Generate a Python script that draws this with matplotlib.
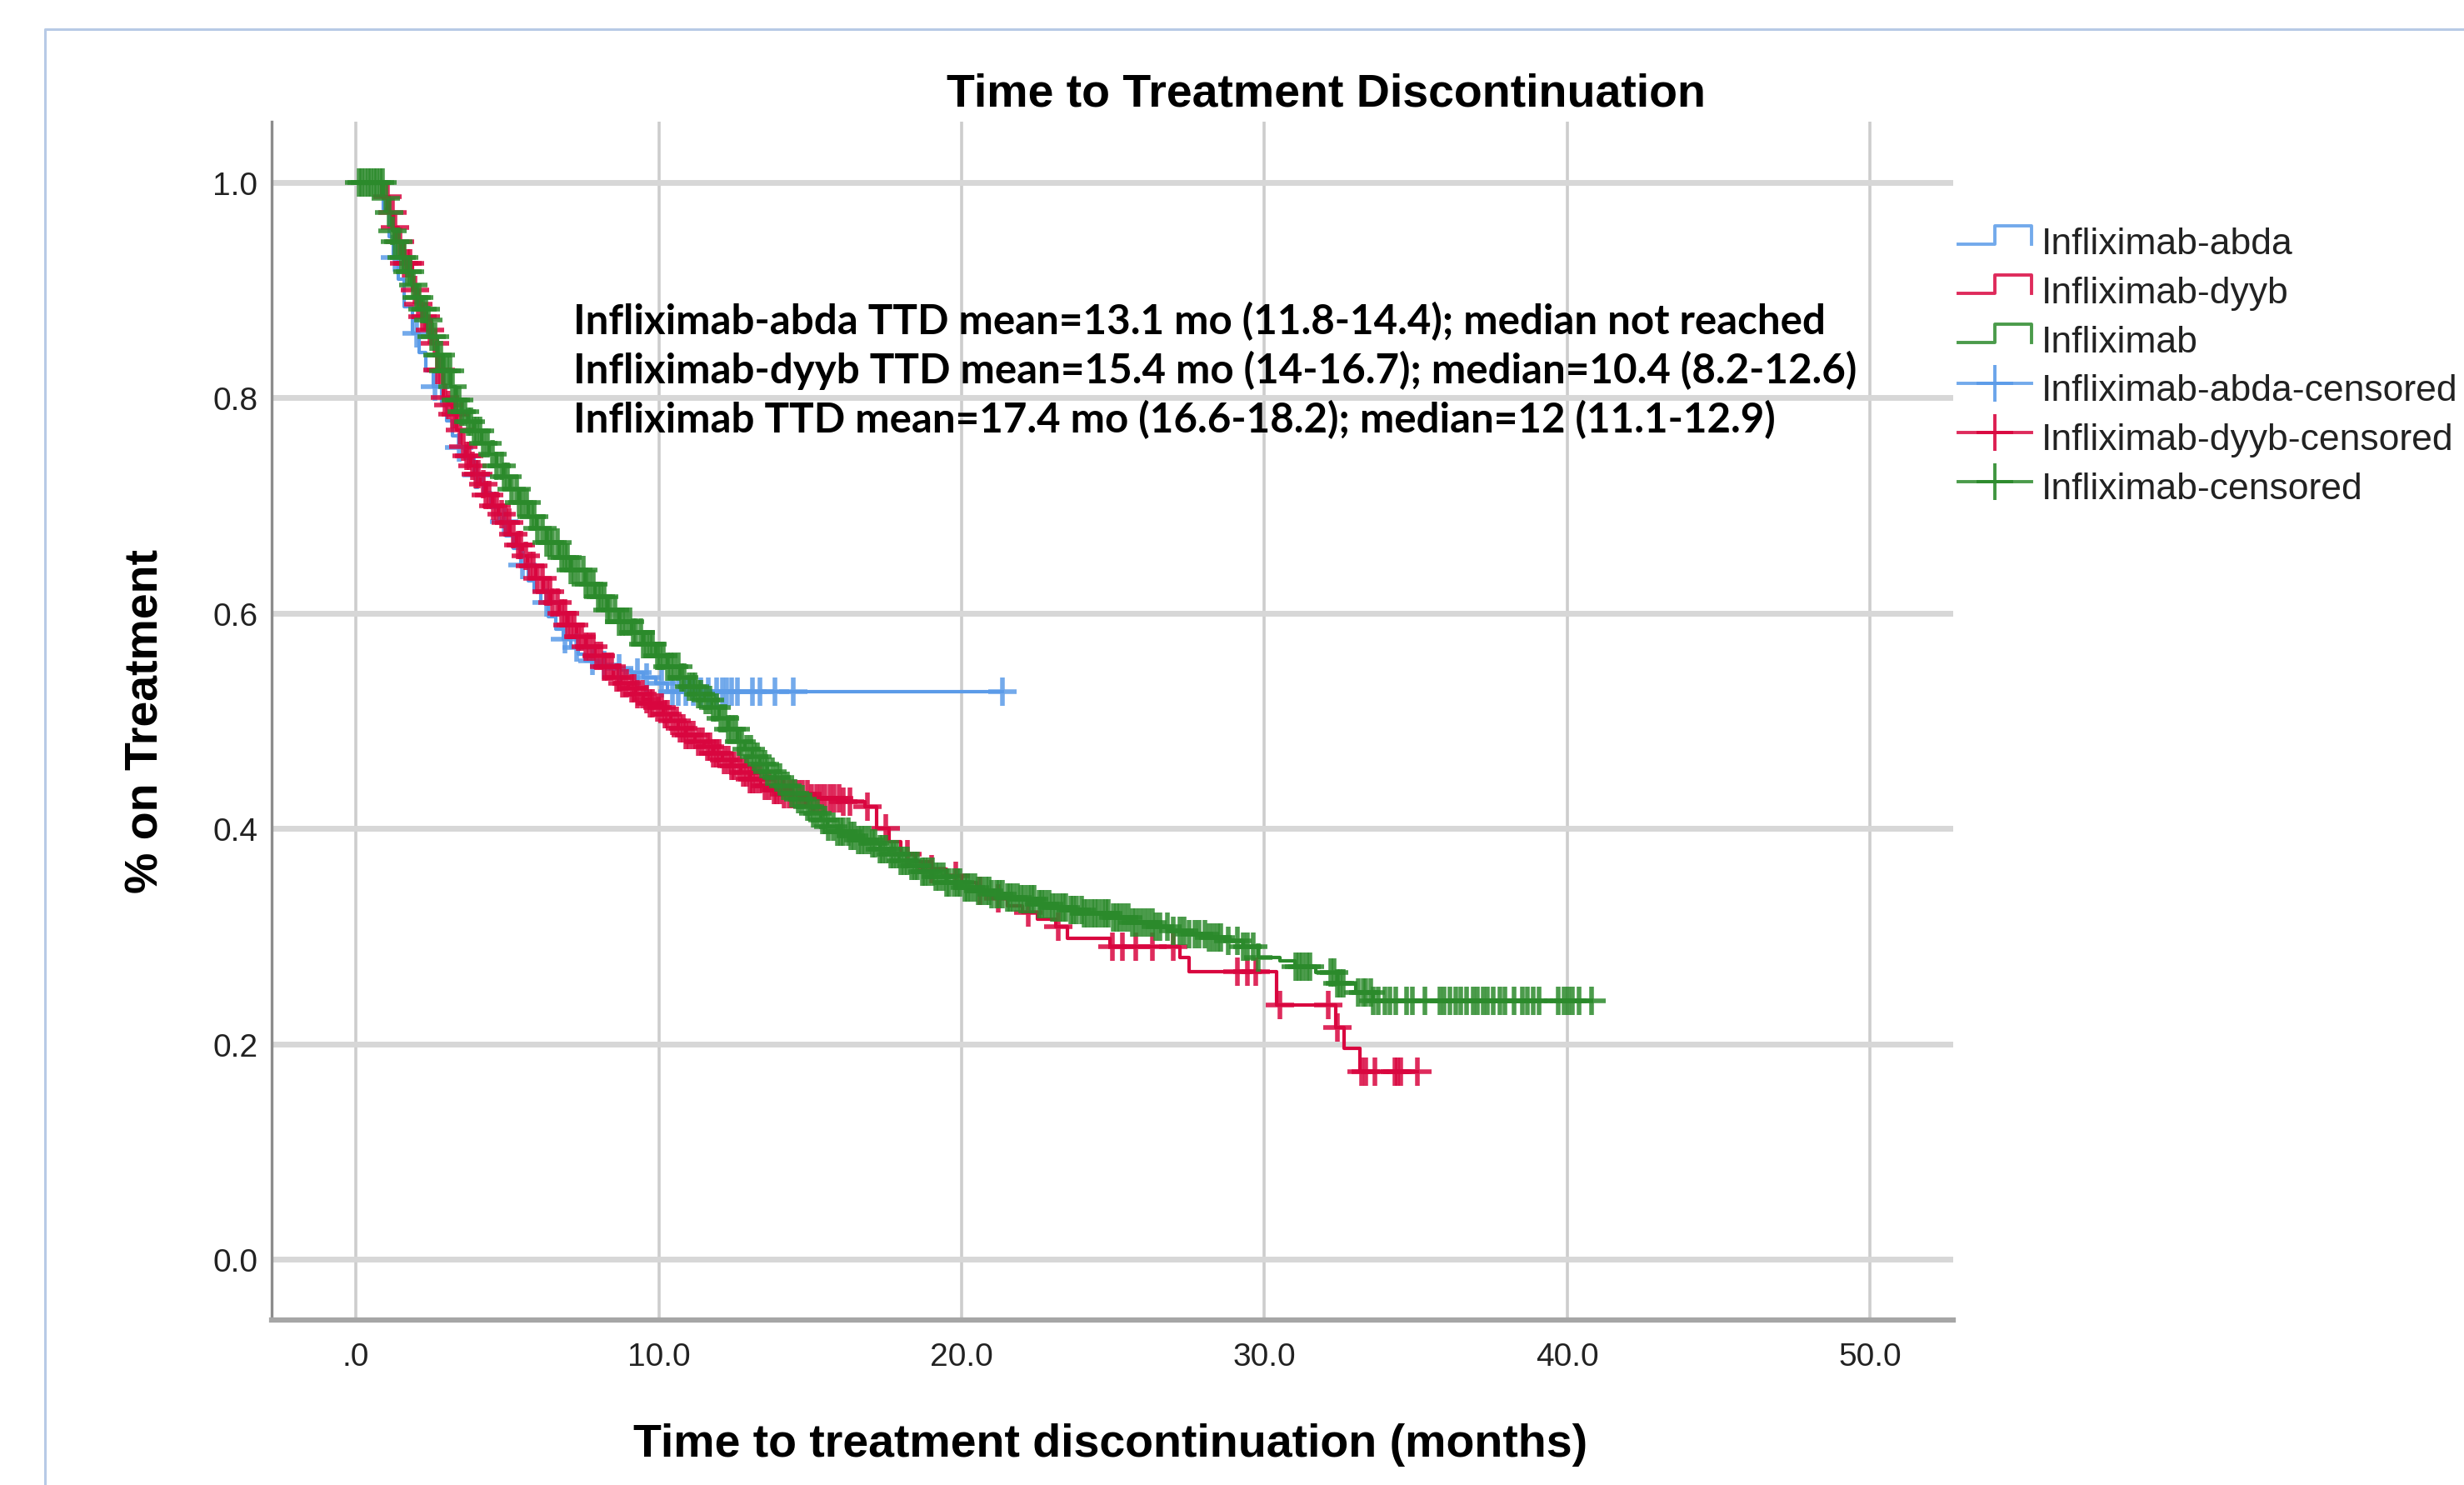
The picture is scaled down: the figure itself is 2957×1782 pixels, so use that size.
import numpy as np
import matplotlib
matplotlib.use("Agg")
import matplotlib.pyplot as plt
from matplotlib.lines import Line2D

# ---------------- data ----------------
series_names = ["Infliximab-abda", "Infliximab-dyyb", "Infliximab"]
censored_names = ["Infliximab-abda-censored", "Infliximab-dyyb-censored", "Infliximab-censored"]

blue_t = [0.0, 0.9, 1.1, 1.25, 1.4, 1.6, 1.87, 2.1, 2.3, 2.55, 2.82, 3.0, 3.2, 3.4, 3.6, 3.9,
          4.2, 4.45, 4.72, 4.95, 5.2, 5.45, 5.7, 5.9, 6.1, 6.35, 6.6, 6.85, 7.1, 7.35, 7.57,
          8.0, 8.4, 8.75, 9.1, 9.5, 9.9, 10.3]
blue_s = [1.0, 0.975, 0.95, 0.93, 0.91, 0.885, 0.86, 0.842, 0.825, 0.81, 0.793, 0.779, 0.765,
          0.754, 0.744, 0.728, 0.712, 0.698, 0.685, 0.672, 0.66, 0.645, 0.63, 0.62, 0.61,
          0.597, 0.585, 0.576, 0.568, 0.562, 0.556, 0.552, 0.549, 0.547, 0.545, 0.54, 0.535,
          0.527]
blue_end = 21.35
blue_cens = [1.3, 2.0, 2.6, 3.4, 4.0, 4.9, 5.5, 6.3, 6.9, 7.3, 7.8, 8.2, 8.7, 9.3, 9.6, 10.1,
             10.45, 10.65, 10.9, 11.15, 11.4, 11.65, 11.9, 12.1, 12.25, 12.4, 12.6, 13.1,
             13.35, 13.85, 14.45, 21.35]

red_t = [0.0, 0.85, 1.1, 1.25, 1.4, 1.6, 1.87, 2.05, 2.2, 2.35, 2.5, 2.7, 2.9, 3.05, 3.2,
         3.33, 3.46, 3.63, 3.8, 3.95, 4.1, 4.3, 4.5, 4.7, 4.87, 5.1, 5.3, 5.5, 5.66, 5.95,
         6.2, 6.45, 6.7, 7.0, 7.3, 7.6, 7.9, 8.2, 8.5, 8.75, 9.0, 9.25, 9.5, 9.7, 9.9, 10.15,
         10.4, 10.65, 10.9, 11.2, 11.5, 11.8, 12.1, 12.4, 12.7, 13.0, 13.36, 13.7, 14.1,
         15.0, 16.0, 16.8, 17.2, 17.6, 18.0, 18.5, 19.0, 19.5, 20.0, 20.5, 21.0, 21.5, 22.0,
         22.5, 23.1, 23.5, 24.9, 27.2, 27.5, 30.4, 32.36, 32.64, 33.14]
red_s = [1.0, 0.987, 0.972, 0.958, 0.945, 0.925, 0.90, 0.887, 0.875, 0.863, 0.851, 0.826,
         0.80, 0.793, 0.785, 0.77, 0.755, 0.746, 0.737, 0.729, 0.72, 0.71, 0.70, 0.692,
         0.684, 0.673, 0.663, 0.653, 0.644, 0.632, 0.62, 0.61, 0.60, 0.589, 0.578, 0.569,
         0.56, 0.55, 0.54, 0.535, 0.53, 0.525, 0.52, 0.516, 0.512, 0.506, 0.50, 0.493,
         0.487, 0.481, 0.476, 0.47, 0.464, 0.458, 0.452, 0.446, 0.44, 0.436, 0.432, 0.428,
         0.425, 0.42, 0.40, 0.388, 0.376, 0.369, 0.362, 0.356, 0.35, 0.342, 0.335, 0.328,
         0.322, 0.316, 0.309, 0.298, 0.29, 0.28, 0.267, 0.236, 0.2155, 0.196, 0.174]
red_end = 35.05
red_cens = [1.05, 1.2, 1.3, 1.45, 1.6, 1.7, 1.8, 1.95, 2.05, 2.2, 2.3, 2.45, 2.6, 2.7, 2.8,
            2.95, 3.05, 3.2, 3.3, 3.45, 3.55, 3.65, 3.75, 3.85, 3.95, 4.05, 4.2, 4.3, 4.4,
            4.55, 4.65, 4.8, 4.95, 5.05, 5.2, 5.35, 5.45, 5.6, 5.75, 5.85, 6.0, 6.15, 6.3,
            6.4, 6.5, 6.65, 6.8, 6.9, 7.0, 7.1, 7.2, 7.35, 7.45, 7.6, 7.7, 7.85, 7.95, 8.1,
            8.2, 8.3, 8.45, 8.6, 8.7, 8.8, 8.95, 9.1, 9.2, 9.3, 9.45, 9.6, 9.7, 9.8, 9.95,
            10.1, 10.2, 10.3, 10.45, 10.6, 10.7, 10.8, 10.9, 11.0, 11.15, 11.3, 11.45, 11.6,
            11.7, 11.8, 11.9, 12.0, 12.15, 12.3, 12.4, 12.5, 12.65, 12.8, 12.9, 13.0, 13.1,
            13.2, 13.35, 13.5, 13.65, 13.8, 13.9, 14.0, 14.15, 14.3, 14.45, 14.6, 14.75,
            14.9, 15.05, 15.2, 15.35, 15.5, 15.65, 15.8, 15.95, 16.1, 16.3, 16.9, 17.5, 18.2,
            19.0, 19.8, 20.6, 21.2, 22.2, 23.2, 24.97, 25.3, 25.76, 26.3, 27.0, 29.1, 29.45,
            29.7, 30.5, 32.1, 32.4, 33.2, 33.35, 33.65, 34.3, 34.4, 34.5, 35.05]

green_t = [0.0, 0.9, 1.05, 1.2, 1.3, 1.5, 1.7, 1.85, 2.0, 2.17, 2.34, 2.5, 2.7, 2.9, 3.14,
           3.3, 3.5, 3.7, 3.9, 4.15, 4.4, 4.65, 4.87, 5.1, 5.4, 5.7, 5.97, 6.3, 6.7, 7.1,
           7.57, 7.9, 8.3, 8.7, 9.1, 9.5, 9.9, 10.3, 10.7, 11.0, 11.3, 11.5, 11.76, 12.0,
           12.3, 12.6, 12.85, 13.1, 13.35, 13.6, 13.85, 14.1, 14.35, 14.6, 14.85, 15.1,
           15.35, 15.57, 15.9, 16.3, 16.6, 17.0, 17.3, 17.6, 17.95, 18.3, 18.7, 19.1, 19.5,
           20.0, 20.5, 21.0, 21.5, 21.95, 22.5, 23.0, 23.5, 24.0, 24.9, 25.6, 26.3, 26.9,
           27.5, 28.1, 28.7, 29.3, 29.8, 30.5, 31.0, 31.7, 32.4, 33.0, 33.6]
green_s = [1.0, 0.985, 0.972, 0.955, 0.945, 0.93, 0.917, 0.905, 0.893, 0.882, 0.872, 0.857,
           0.84, 0.825, 0.81, 0.798, 0.787, 0.778, 0.769, 0.758, 0.748, 0.737, 0.727, 0.715,
           0.703, 0.69, 0.679, 0.666, 0.652, 0.64, 0.627, 0.615, 0.603, 0.592, 0.582, 0.571,
           0.56, 0.55, 0.54, 0.532, 0.525, 0.519, 0.512, 0.502, 0.492, 0.481, 0.474, 0.467,
           0.46, 0.453, 0.447, 0.44, 0.433, 0.427, 0.42, 0.414, 0.408, 0.402, 0.397, 0.393,
           0.389, 0.386, 0.381, 0.376, 0.37, 0.365, 0.36, 0.355, 0.35, 0.345, 0.342, 0.339,
           0.336, 0.334, 0.33, 0.327, 0.324, 0.321, 0.317, 0.313, 0.309, 0.305, 0.302, 0.299,
           0.296, 0.29, 0.28, 0.277, 0.272, 0.266, 0.256, 0.248, 0.24]
green_end = 40.8
green_cens = [0.1, 0.2, 0.3, 0.4, 0.5, 0.6, 0.7, 0.8, 0.88,
              1.0, 1.1, 1.2, 1.3, 1.4, 1.5, 1.6, 1.7, 1.8, 1.9, 2.0, 2.1, 2.2, 2.3, 2.4,
              2.5, 2.6, 2.7, 2.8, 2.9, 3.0, 3.1, 3.2, 3.3, 3.4, 3.5, 3.6, 3.7, 3.8, 3.9,
              4.0, 4.1, 4.2, 4.35, 4.5, 4.65, 4.8, 4.9, 5.0, 5.15, 5.3, 5.4, 5.5, 5.65, 5.8,
              5.9, 6.0, 6.15, 6.3, 6.4, 6.5, 6.65, 6.8, 6.9, 7.0, 7.1, 7.2, 7.35, 7.5, 7.6,
              7.7, 7.85, 8.0, 8.1, 8.2, 8.3, 8.4, 8.55, 8.7, 8.8, 8.9, 9.05, 9.15, 9.25,
              9.4, 9.5, 9.6, 9.7, 9.8, 9.95, 10.05, 10.15, 10.3, 10.4, 10.5, 10.65, 10.75,
              10.85, 11.0, 11.1, 11.2, 11.3, 11.4, 11.55, 11.7, 11.8, 11.9, 12.05, 12.2,
              12.3, 12.4, 12.55, 12.65, 12.75, 12.9, 13.05, 13.15, 13.25, 13.4, 13.5, 13.6,
              13.75, 13.9, 14.0, 14.1, 14.25, 14.4, 14.5, 14.6, 14.75, 14.9, 15.0, 15.1,
              15.25, 15.4, 15.5, 15.6, 15.75, 15.9, 16.0, 16.1, 16.25, 16.35, 16.45, 16.6,
              16.7, 16.8, 16.95, 17.05, 17.15, 17.3, 17.4, 17.5, 17.65, 17.75, 17.85, 18.0,
              18.1, 18.2, 18.35, 18.45, 18.55, 18.7, 18.8, 18.9, 19.05, 19.15, 19.25, 19.4,
              19.5, 19.6, 19.75, 19.85, 19.95, 20.1, 20.2, 20.3, 20.45, 20.55, 20.65, 20.8,
              20.9, 21.0, 21.15, 21.25, 21.35, 21.5, 21.6, 21.7, 21.85, 21.95, 22.05, 22.2,
              22.3, 22.4, 22.55, 22.65, 22.75, 22.9, 23.0, 23.1, 23.25, 23.35, 23.45, 23.6,
              23.7, 23.8, 23.95, 24.05, 24.15, 24.3, 24.4, 24.5, 24.65, 24.75, 24.85,
              25.0, 25.12, 25.24, 25.37, 25.5, 25.63, 25.76, 25.9, 26.03, 26.16, 26.29, 26.42,
              26.55, 26.8, 27.0, 27.2, 27.35, 27.5, 27.7, 27.85, 28.04, 28.17, 28.3, 28.45,
              28.57, 28.8, 29.1, 29.3, 29.45, 29.62, 29.8, 31.03, 31.15, 31.25, 31.4, 31.5,
              32.2, 32.3, 32.4, 32.5, 32.6, 33.1, 33.25, 33.35, 33.5, 33.6, 33.75,
              33.97, 34.15, 34.33, 34.7, 34.88, 35.3, 35.8, 35.94, 36.12, 36.31, 36.49,
              36.67, 36.9, 37.04, 37.22, 37.36, 37.54, 37.77, 37.95, 38.23, 38.51, 38.69,
              38.88, 39.06, 39.7, 39.88, 40.02, 40.16, 40.39, 40.8]

x_ticks = [0, 10, 20, 30, 40, 50]
x_ticklabels = [".0", "10.0", "20.0", "30.0", "40.0", "50.0"]
y_ticks = [0.0, 0.2, 0.4, 0.6, 0.8, 1.0]
y_ticklabels = ["0.0", "0.2", "0.4", "0.6", "0.8", "1.0"]

title = "Time to Treatment Discontinuation"
xlabel = "Time to treatment discontinuation (months)"
ylabel = "% on Treatment"
annotations = [
    "Infliximab-abda TTD mean=13.1 mo (11.8-14.4); median not reached",
    "Infliximab-dyyb TTD mean=15.4 mo (14-16.7); median=10.4 (8.2-12.6)",
    "Infliximab TTD mean=17.4 mo (16.6-18.2); median=12 (11.1-12.9)",
]

colors = ["#5b9be8", "#d9063f", "#2b8a2b"]

# ---------------- figure ----------------
W, H = 2957, 1783
DPI = 100
fig = plt.figure(figsize=(W / DPI, H / DPI), dpi=DPI, facecolor="white")


def fx(px):
    return px / W


def fy(py):
    return 1 - py / H


SANS = ["Liberation Sans", "DejaVu Sans"]

ax = fig.add_axes([fx(326), fy(1585), (2344 - 326) / W, (1585 - 147) / H])
ax.set_xlim(-2.78, 52.74)
ax.set_ylim(-0.0565, 1.0565)
ax.set_axisbelow(True)
ax.yaxis.grid(True, color="#d7d7d7", lw=5, zorder=0)
ax.xaxis.grid(True, color="#cdcdcd", lw=2.6, zorder=0)
for s in ["top", "right"]:
    ax.spines[s].set_visible(False)
ax.spines["left"].set_color("#8c8c8c")
ax.spines["left"].set_linewidth(2.4)
ax.spines["bottom"].set_color("#a6a6a6")
ax.spines["bottom"].set_linewidth(4.5)

ax.set_xticks(x_ticks)
ax.set_xticklabels(x_ticklabels, family=SANS, fontsize=28, color="#222222")
ax.set_yticks(y_ticks)
ax.set_yticklabels(y_ticklabels, family=SANS, fontsize=28, color="#222222")
ax.tick_params(axis="x", length=0, pad=19)
ax.tick_params(axis="y", length=0, pad=12)


def surv_at(t, times, surv):
    idx = np.searchsorted(np.asarray(times), np.asarray(t), side="right") - 1
    return np.asarray(surv)[idx]


all_series = [
    (blue_t, blue_s, blue_end, blue_cens),
    (red_t, red_s, red_end, red_cens),
    (green_t, green_s, green_end, green_cens),
]
for (t, s, end, cens), c in zip(all_series, colors):
    tt = list(t) + [end]
    ss = list(s) + [s[-1]]
    ax.step(tt, ss, where="post", color=c, lw=3.0, zorder=3)
    ax.plot(cens, surv_at(cens, t, s), ls="none", marker="+", ms=24, mew=4.0,
            color=c, alpha=0.85, zorder=4)

# ---------------- texts ----------------
fig.text(fx(1591), fy(128), title, ha="center", va="baseline", fontsize=40,
         fontweight="bold", family=SANS)
fig.text(fx(1333), fy(1748), xlabel, ha="center", va="baseline", fontsize=40,
         fontweight="bold", family=SANS)
fig.text(fx(176), fy(865), ylabel, ha="center", va="center", rotation=90, fontsize=40,
         fontweight="bold", family=SANS)

for i, line in enumerate(annotations):
    fig.text(fx(688), fy(401 + 59 * i), line, ha="left", va="baseline", fontsize=35.5,
             fontweight="bold", family=["Lato", "DejaVu Sans"])

# ---------------- legend (drawn in figure pixels) ----------------
legend_labels = series_names + censored_names
legend_colors = colors + colors
for i, (lab, c) in enumerate(zip(legend_labels, legend_colors)):
    base = 305 + 58.8 * i
    if i < 3:
        yb, yt = base - 11, base - 33
        xs = [2350, 2394, 2394, 2438, 2438]
        ys = [yb, yb, yt, yt, yb]
        fig.add_artist(Line2D([fx(x) for x in xs], [fy(y) for y in ys],
                              transform=fig.transFigure, color=c, lw=2.8, alpha=0.85))
    else:
        yc = base - 20
        fig.add_artist(Line2D([fx(2350), fx(2438)], [fy(yc), fy(yc)],
                              transform=fig.transFigure, color=c, lw=2.8, alpha=0.85))
        fig.add_artist(Line2D([fx(2394)], [fy(yc)], transform=fig.transFigure,
                              color=c, marker="+", ms=32, mew=2.8, ls="none", alpha=0.9))
    fig.text(fx(2450), fy(base), lab, ha="left", va="baseline", fontsize=32,
             family=SANS, color="#222222")

# outer frame (light blue border of the chart area)
fig.add_artist(Line2D([fx(54), fx(54), fx(W + 10)], [fy(H + 10), fy(36), fy(36)],
                      transform=fig.transFigure, color="#b7cae6", lw=2.2))

fig.savefig("out.png", dpi=DPI, facecolor="white")
